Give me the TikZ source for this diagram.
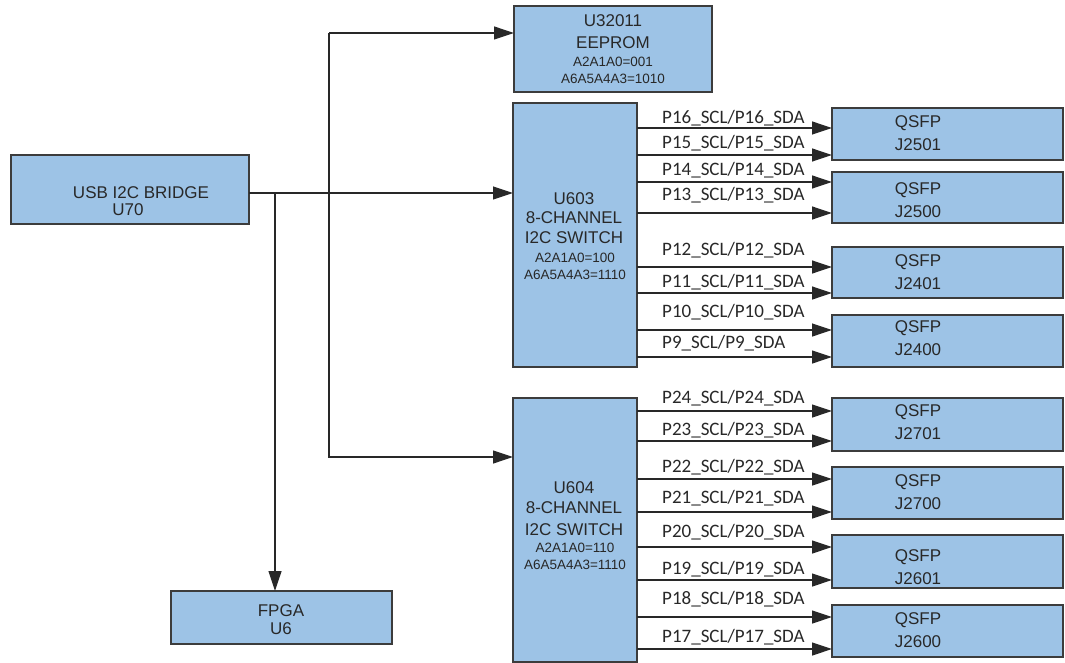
\documentclass[tikz,border=0pt]{standalone}
\usepackage{fontspec}
\setmainfont{Liberation Sans}
\newfontfamily\portfont{Carlito}
\usetikzlibrary{arrows.meta}
\definecolor{boxfill}{RGB}{157,195,230}
\definecolor{edge}{RGB}{60,60,60}
\definecolor{ink}{RGB}{40,40,40}
\tikzset{
  blk/.style={draw=edge, fill=boxfill, line width=1.2pt, inner sep=0pt, outer sep=0pt, anchor=north west},
  txt/.style={text=ink, font=\fontsize{17}{18}\selectfont, inner sep=0pt},
  addr/.style={text=ink, font=\fontsize{13.5}{14}\selectfont, inner sep=0pt},
  port/.style={text=ink, font=\portfont\fontsize{19}{20}\selectfont, inner sep=0pt, anchor=west},
  arr/.style={draw=ink, line width=1.2pt, -{Triangle[length=20pt,width=13pt]}},
}
\begin{document}
\begin{tikzpicture}[x=1pt,y=-1pt]
\useasboundingbox (0,0) rectangle (1065,663);
% boxes
\node[blk, minimum width=198pt, minimum height=86pt] (eeprom) at (514,6) {};
\node[blk, minimum width=238pt, minimum height=69pt] (usb) at (11,155) {};
\node[blk, minimum width=221pt, minimum height=53pt] (fpga) at (171,591) {};
\node[blk, minimum width=124pt, minimum height=264pt] (u603) at (513,103) {};
\node[blk, minimum width=124pt, minimum height=264pt] (u604) at (513,398) {};
\node[blk, minimum width=231pt, minimum height=52pt] (j2501) at (832,108) {};
\node[blk, minimum width=231pt, minimum height=51pt] (j2500) at (832,172) {};
\node[blk, minimum width=231pt, minimum height=51pt] (j2401) at (832,247) {};
\node[blk, minimum width=231pt, minimum height=52pt] (j2400) at (832,315) {};
\node[blk, minimum width=231pt, minimum height=53pt] (j2701) at (832,398) {};
\node[blk, minimum width=231pt, minimum height=52pt] (j2700) at (832,467) {};
\node[blk, minimum width=231pt, minimum height=53pt] (j2601) at (832,535) {};
\node[blk, minimum width=231pt, minimum height=52pt] (j2600) at (832,605) {};
% box texts
\node[txt] (e1) at (613,21) {U32011};
\node[txt] (e2) at (613,43) {EEPROM};
\node[addr] (e3) at (613,62) {A2A1A0=001};
\node[addr] (e4) at (613,79) {A6A5A4A3=1010};
\node[txt] (usb1) at (141,193) {USB I2C BRIDGE};
\node[txt] (usb2) at (128,210) {U70};
\node[txt] (f1t) at (281,611) {FPGA};
\node[txt] (f2t) at (281,629) {U6};
\node[txt] (a1) at (574,199) {U603};
\node[txt] (a2) at (574,218) {8-CHANNEL};
\node[txt] (a3) at (574,238) {I2C SWITCH};
\node[addr] (a4) at (575,258) {A2A1A0=100};
\node[addr] (a5) at (575,275) {A6A5A4A3=1110};
\node[txt] (b1t) at (574,488) {U604};
\node[txt] (b2t) at (574,508) {8-CHANNEL};
\node[txt] (b3t) at (574,530) {I2C SWITCH};
\node[addr] (b4t) at (575,548) {A2A1A0=110};
\node[addr] (b5t) at (575,565) {A6A5A4A3=1110};
% QSFP texts
\foreach \n/\y/\j in {q1/123/J2501, q2/190/J2500, q3/262/J2401, q4/328/J2400, q5/412/J2701, q6/482/J2700, q7/557/J2601, q8/620/J2600}{
  \node[txt] (\n a) at (918,\y) {QSFP};
  \node[txt] (\n b) at (918,\y+22) {\j};
}
% bus connectors
\coordinate (bt) at (329,33);
\coordinate (bb) at (329,457);
\coordinate (fj) at (275,193);
\draw[arr] (usb.east |- fj) -- (u603.west |- fj);
\draw[arr] (bt) -- (eeprom.west |- bt);
\draw[arr] (bt) -- (bb) -- (u604.west |- bb);
\draw[arr] (fj) -- (fpga.north -| fj);
% port connectors
\foreach \y/\t/\lab/\ly in {128/j2501/16/118, 155/j2501/15/143, 182/j2500/14/170, 213/j2500/13/195,
  267/j2401/12/250, 293/j2401/11/282, 330/j2400/10/312, 357/j2400/9/343}{
  \draw[arr] (u603.east |- 0,\y) -- (\t.west |- 0,\y);
  \node[port] (p\lab) at (662,\ly) {P\lab\_SCL/P\lab\_SDA};
}
\foreach \y/\t/\lab/\ly in {411/j2701/24/398, 441/j2701/23/430, 479/j2700/22/467, 512/j2700/21/498,
  547/j2601/20/532, 580/j2601/19/569, 617/j2600/18/599, 649/j2600/17/637}{
  \draw[arr] (u604.east |- 0,\y) -- (\t.west |- 0,\y);
  \node[port] (p\lab) at (662,\ly) {P\lab\_SCL/P\lab\_SDA};
}
\end{tikzpicture}
\end{document}
